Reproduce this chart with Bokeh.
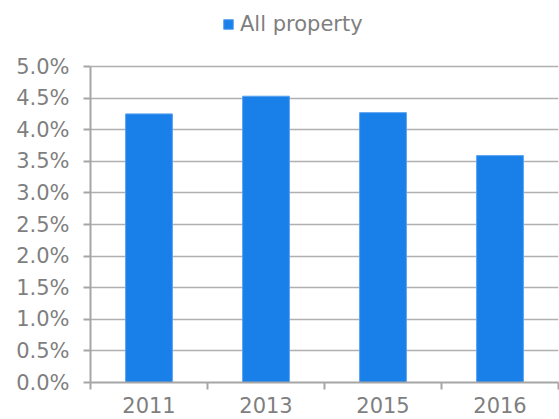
from bokeh.plotting import figure
from bokeh.models import (Range1d, FixedTicker, PrintfTickFormatter, ColumnDataSource,
                          Legend, LegendItem)
from bokeh.core.properties import value
from bokeh.embed import file_html
from bokeh.resources import INLINE

years = ["2011", "2013", "2015", "2016"]
values = [4.25, 4.53, 4.27, 3.59]  # percent
series_name = "All property"
y_ticks = [0.0, 0.5, 1.0, 1.5, 2.0, 2.5, 3.0, 3.5, 4.0, 4.5, 5.0]

FONT = "DejaVu Sans"
TEXT = "#7f7f7f"
BAR = "#197fe9"

xpos = [i + 0.5 for i in range(len(years))]
src = ColumnDataSource(dict(x=xpos, top=values, year=years))

# frame spans the whole height; axis max 5.0% sits 66px below the top
y_top = y_ticks[-1] * 382 / (382 - 66)

p = figure(width=559, height=419, output_backend="svg", toolbar_location=None,
           x_range=Range1d(0, len(years)), y_range=Range1d(0, y_top),
           min_border_left=90, min_border_right=1, min_border_top=0,
           min_border_bottom=37)
p.outline_line_color = None
p.background_fill_color = "white"
p.border_fill_color = "white"

r = p.vbar(x="x", top="top", width=0.4, source=src, fill_color=BAR,
           line_color="#5aa2f0", line_width=1)

# x axis
xa = p.xaxis[0]
xa.ticker = FixedTicker(ticks=xpos, minor_ticks=list(range(len(years) + 1)))
xa.major_label_overrides = {x: y for x, y in zip(xpos, years)}
xa.major_tick_out = 0
xa.major_tick_in = 0
xa.minor_tick_out = 7
xa.minor_tick_in = 0
xa.minor_tick_line_color = "#a6a6a6"
xa.minor_tick_line_width = 2
xa.axis_line_color = "#a6a6a6"
xa.axis_line_width = 2
xa.major_label_text_font = FONT
xa.major_label_text_font_size = "21px"
xa.major_label_text_color = TEXT
xa.major_label_standoff = 7

# y axis
ya = p.yaxis[0]
ya.ticker = FixedTicker(ticks=y_ticks, minor_ticks=[])
ya.bounds = (y_ticks[0], y_ticks[-1])
ya.formatter = PrintfTickFormatter(format="%.1f%%")
ya.major_tick_out = 7
ya.major_tick_in = 0
ya.major_tick_line_color = "#a6a6a6"
ya.major_tick_line_width = 2
ya.axis_line_color = "#a6a6a6"
ya.axis_line_width = 2
ya.major_label_text_font = FONT
ya.major_label_text_font_size = "21px"
ya.major_label_text_color = TEXT
ya.major_label_standoff = 14

p.xgrid.grid_line_color = None
p.ygrid.ticker = FixedTicker(ticks=y_ticks)
p.ygrid.grid_line_color = "#b0b0b0"
p.ygrid.grid_line_width = 1.5

legend = Legend(items=[LegendItem(label=value(series_name), renderers=[r])],
                location=(132, 346), orientation="horizontal",
                border_line_color=None, background_fill_alpha=0,
                padding=0, margin=0, spacing=0,
                glyph_width=12, glyph_height=12, label_standoff=6,
                label_text_font=FONT, label_text_font_size="21px",
                label_text_color=TEXT)
p.add_layout(legend, "center")

open("out.html", "w").write(file_html(p, INLINE))
